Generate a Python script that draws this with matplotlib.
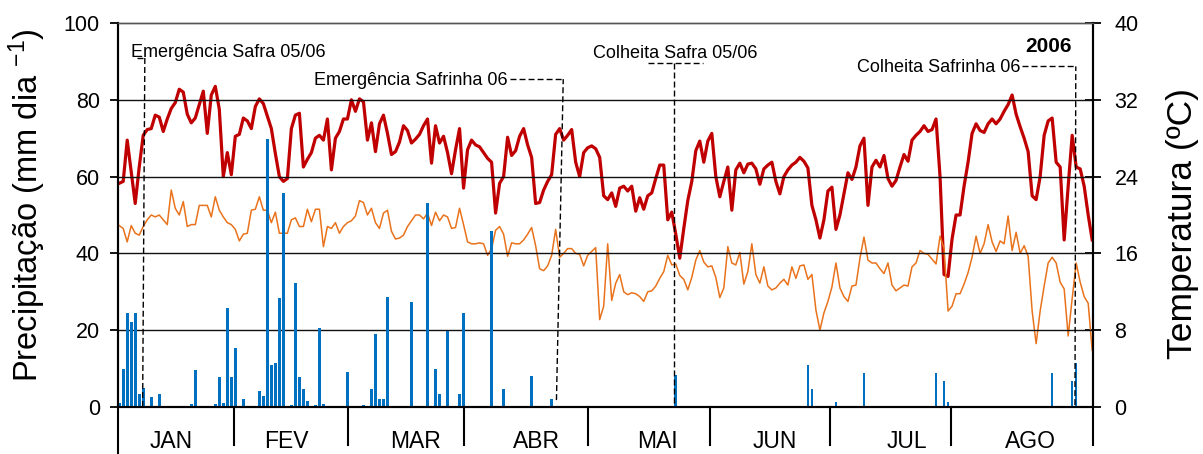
import matplotlib
matplotlib.use('Agg')
import numpy as np
import matplotlib.pyplot as plt

plt.rcParams['font.family'] = ['Liberation Sans', 'DejaVu Sans']
plt.rcParams['mathtext.fontset'] = 'custom'
plt.rcParams['mathtext.rm'] = 'Liberation Sans'
plt.rcParams['mathtext.default'] = 'regular'

# daily max / min temperature (deg C), 1 Jan - 31 Aug 2006
tmax = [
    23.3, 23.5, 27.8, 24.5, 21.2, 25.0, 28.3, 28.9, 29.0, 30.4,
    30.2, 28.7, 30.0, 31.1, 31.7, 33.1, 32.8, 30.5, 29.6, 30.1,
    31.5, 32.9, 28.5, 32.5, 33.4, 31.0, 24.0, 26.5, 24.2, 28.2,
    28.4, 30.1, 29.8, 29.0, 31.3, 32.1, 31.6, 30.3, 29.0, 26.4,
    24.0, 23.5, 23.8, 29.0, 30.4, 30.6, 25.0, 25.8, 26.5, 28.0,
    28.3, 27.8, 30.0, 24.7, 28.0, 28.7, 30.0, 30.0, 32.0, 30.8,
    32.1, 31.8, 27.8, 29.6, 26.6, 29.5, 30.4, 28.5, 26.3, 26.6,
    27.6, 29.3, 28.8, 27.5, 27.9, 28.4, 29.3, 30.0, 25.4, 29.3,
    27.5, 28.2, 26.5, 24.3, 26.8, 29.0, 22.8, 26.8, 27.8, 27.3,
    27.1, 26.5, 25.9, 25.5, 20.2, 23.3, 24.0, 28.1, 26.2, 26.7,
    28.2, 29.0, 27.3, 26.0, 21.2, 21.3, 22.6, 23.5, 24.2, 28.4,
    29.0, 27.8, 28.3, 28.9, 25.5, 24.0, 26.5, 27.0, 27.2, 26.9,
    26.0, 22.0, 21.6, 22.3, 20.9, 22.8, 23.0, 22.5, 23.0, 20.4,
    21.8, 20.6, 22.0, 22.3, 23.8, 25.2, 25.2, 19.5, 20.3, 18.0,
    15.5, 18.6, 21.5, 23.5, 26.7, 27.7, 25.5, 27.7, 28.5, 24.0,
    21.9, 23.5, 25.0, 20.5, 24.7, 25.4, 24.4, 25.3, 25.4, 24.8,
    23.2, 24.8, 25.2, 25.5, 23.5, 22.2, 24.0, 24.7, 25.2, 25.5,
    26.0, 25.6, 24.9, 21.0, 19.5, 17.6, 19.5, 22.5, 22.9, 18.5,
    20.0, 22.2, 24.4, 23.7, 25.0, 27.2, 28.0, 21.0, 25.0, 25.7,
    25.0, 26.2, 23.8, 23.0, 23.6, 25.0, 26.3, 25.6, 27.8, 28.3,
    28.7, 29.3, 28.7, 28.9, 30.0, 24.0, 13.8, 13.6, 17.5, 20.0,
    20.0, 23.0, 25.5, 28.5, 29.5, 28.8, 28.6, 29.5, 30.0, 29.5,
    30.0, 30.8, 31.5, 32.5, 30.5, 29.2, 28.0, 26.6, 22.0, 21.6,
    24.0, 28.3, 29.8, 30.1, 25.5, 25.0, 17.4, 23.0, 28.3, 25.0,
    24.8, 23.0, 20.0, 17.4,
]
tmin = [
    18.9, 18.6, 17.2, 18.9, 18.1, 17.9, 18.8, 19.5, 20.0, 19.8,
    20.0, 19.5, 19.0, 22.6, 20.7, 20.0, 21.4, 18.8, 19.0, 19.0,
    21.0, 21.0, 21.0, 19.8, 21.9, 20.5, 19.8, 19.2, 19.0, 18.5,
    17.3, 18.0, 18.1, 20.5, 20.6, 21.9, 20.5, 20.5, 19.2, 20.3,
    18.1, 18.1, 18.1, 19.5, 19.7, 18.8, 18.8, 20.6, 19.3, 20.6,
    20.6, 16.7, 18.8, 18.6, 19.2, 18.1, 18.8, 19.2, 19.4, 19.9,
    21.5, 21.3, 20.0, 20.7, 19.2, 18.6, 20.2, 20.5, 18.3, 17.5,
    17.6, 17.9, 18.8, 19.4, 20.0, 20.0, 19.6, 20.2, 18.9, 20.3,
    19.4, 20.0, 19.8, 18.6, 18.7, 20.7, 19.0, 17.2, 17.0, 17.0,
    17.1, 17.0, 15.8, 16.5, 18.4, 18.8, 18.0, 15.7, 17.1, 17.0,
    17.0, 17.4, 18.0, 18.7, 16.8, 14.4, 14.2, 14.7, 15.8, 18.5,
    15.6, 16.0, 16.5, 16.5, 16.0, 15.9, 14.7, 15.8, 16.2, 16.6,
    9.1, 10.5, 17.0, 11.1, 12.9, 13.8, 12.0, 11.7, 11.9, 11.8,
    11.5, 11.0, 12.0, 12.1, 12.6, 13.4, 14.1, 15.8, 14.8, 14.9,
    13.7, 13.3, 12.2, 13.5, 15.3, 16.3, 15.1, 14.6, 14.7, 13.5,
    11.4, 12.4, 16.7, 15.0, 14.8, 16.1, 12.8, 14.1, 17.0, 13.8,
    12.9, 14.6, 12.6, 12.2, 12.4, 12.9, 13.3, 12.7, 14.6, 13.4,
    14.7, 14.8, 13.3, 13.8, 10.1, 8.0, 9.8, 11.0, 12.5, 15.0,
    12.4, 11.5, 11.0, 12.6, 12.7, 15.5, 17.7, 15.3, 15.0, 15.0,
    14.4, 13.9, 15.0, 12.7, 12.1, 12.4, 12.7, 12.6, 14.6, 15.0,
    16.3, 16.0, 15.9, 15.4, 14.9, 17.8, 16.5, 10.0, 10.5, 11.8,
    11.8, 12.8, 14.0, 15.6, 17.8, 16.0, 17.0, 19.0, 17.2, 16.2,
    17.3, 17.0, 19.9, 16.3, 18.2, 16.0, 16.8, 15.7, 10.0, 6.6,
    10.0, 12.6, 15.0, 15.6, 15.0, 13.0, 12.3, 7.4, 11.3, 15.0,
    13.0, 11.5, 10.8, 5.9,
]

# rainy days (day index from 1 Jan) and precipitation (mm/day)
rain_day = [0, 1, 2, 3, 4, 5, 6, 8, 10, 18, 19, 24, 25, 26, 27, 28, 29, 31,
            35, 36, 37, 38, 39, 40, 41, 43, 44, 45, 46, 47, 49, 50, 51, 52,
            57, 59, 61, 63, 64, 65, 66, 67, 73, 77, 79, 80, 82, 85, 86,
            93, 96, 103, 108, 139, 154, 172, 173, 179, 186,
            204, 205, 206, 207, 233, 238, 239]
rain_mm = [1.0, 10.0, 24.4, 22.2, 24.4, 3.5, 5.0, 2.5, 3.4, 0.7, 9.6, 0.7, 7.9, 1.0, 25.7, 7.9, 15.3, 2.0,
           4.2, 2.9, 69.7, 10.9, 11.4, 28.3, 55.8, 0.4, 32.2, 7.7, 4.6, 1.6, 0.5, 20.7, 0.8, 0.3,
           9.2, 0.3, 0.4, 4.6, 19.0, 2.0, 2.0, 28.7, 27.4, 53.2, 10.0, 3.4, 19.9, 3.4, 24.4,
           45.9, 4.6, 8.1, 2.0, 8.3, 0.3, 10.9, 4.6, 1.4, 8.9,
           8.9, 0.3, 6.9, 1.4, 8.9, 6.9, 11.5]

months = ['JAN', 'FEV', 'MAR', 'ABR', 'MAI', 'JUN', 'JUL', 'AGO']
month_label_day = [13.0, 41.7, 73.9, 104.2, 134.5, 163.8, 196.7, 227.7]
month_edge_day = [-0.3, 28.6, 57.1, 86.2, 117.2, 147.5, 177.5, 207.7, 243.2]

# crop events: label, leader line (bottom day, top day, bottom mm, top mm, horizontal start day)
events = ['Emergência Safra 05/06', 'Emergência Safrinha 06',
          'Colheita Safra 05/06', 'Colheita Safrinha 06']
ev_day_bottom = [5.85, 109.2, 138.6, 238.7]
ev_day_top = [6.4, 110.9, 138.6, 238.9]
ev_mm_bottom = [0.0, 1.8, 1.0, 0.5]
ev_mm_top = [90.9, 85.4, 89.7, 88.7]
ev_hline = [(4.4, 6.4), (97.6, 110.9), (132.1, 145.9), (225.4, 238.9)]
ev_text_x = [2.9, 97.1, 138.8, 225.2]
ev_text_y = [91.1, 83.8, 90.9, 87.3]
ev_text_ha = ['left', 'right', 'center', 'right']

days = np.arange(len(tmax))
precip = np.zeros(len(tmax))
precip[rain_day] = rain_mm

fig = plt.figure(figsize=(12.03, 4.54), dpi=100)
ax = fig.add_axes([118 / 1203, 1 - 407 / 454, 975 / 1203, 384 / 454])
ax2 = ax.twinx()

ax.bar(days, precip, width=0.65, color='#0070C0', zorder=2)
ax.set_xlim(-0.3, 243.2)
ax.set_ylim(0, 100)
ax.set_yticks([0, 20, 40, 60, 80, 100])
ax.set_xticks([])
for v in [20, 40, 60, 80]:
    ax.axhline(v, color='#111111', lw=1.0, zorder=1)

ax2.plot(days, tmax, color='#C00000', lw=2.3, zorder=3)
ax2.plot(days, tmin, color='#E9731C', lw=1.1, zorder=3)
ax2.set_ylim(0, 40)
ax2.set_yticks([0, 8, 16, 24, 32, 40])

for a in (ax, ax2):
    for s in ['left', 'right', 'bottom']:
        a.spines[s].set_linewidth(1.5)
        a.spines[s].set_color('black')
    a.spines['top'].set_color('#555555')
    a.spines['top'].set_linewidth(1.0)

ax.tick_params(axis='y', direction='out', length=6, width=1.3, pad=7, labelsize=15.5)
ax2.tick_params(axis='y', direction='inout', length=11, width=1.3, pad=10, labelsize=15.5)

ax.set_ylabel('Precipitação (mm dia $^{-1}$)', fontsize=23.5)
ax.yaxis.set_label_coords(-0.072, 0.525)
ax2.set_ylabel('Temperatura (ºC)', fontsize=25.5)
ax2.yaxis.set_label_coords(1.075, 0.477)

# month table under the axis
trans = ax.get_xaxis_transform()
for i, x in enumerate(month_edge_day):
    y0 = -0.12 if i == 0 else -0.10
    ax.plot([x, x], [0, y0], color='black', lw=1.5, transform=trans, clip_on=False)
for m, x in zip(months, month_label_day):
    ax.text(x, -0.09, m, transform=trans, ha='center', va='center', fontsize=16.5)

# crop event markers
dash = (0, (4.3, 2.2))
for i, name in enumerate(events):
    ax.plot([ev_day_bottom[i], ev_day_top[i]], [ev_mm_bottom[i], ev_mm_top[i]],
            color='black', lw=1.0, linestyle=dash, zorder=5, clip_on=False)
    ax.plot(list(ev_hline[i]), [ev_mm_top[i], ev_mm_top[i]],
            color='black', lw=1.0, linestyle=dash, zorder=5)
    ax.text(ev_text_x[i], ev_text_y[i], name, ha=ev_text_ha[i], va='baseline',
            fontsize=13, zorder=6)
ax.text(238.0, 92.4, '2006', ha='right', va='baseline', fontsize=15, fontweight='bold')

ax.set_zorder(ax2.get_zorder() + 1)
ax.patch.set_visible(False)

fig.savefig('out.png', dpi=100)
